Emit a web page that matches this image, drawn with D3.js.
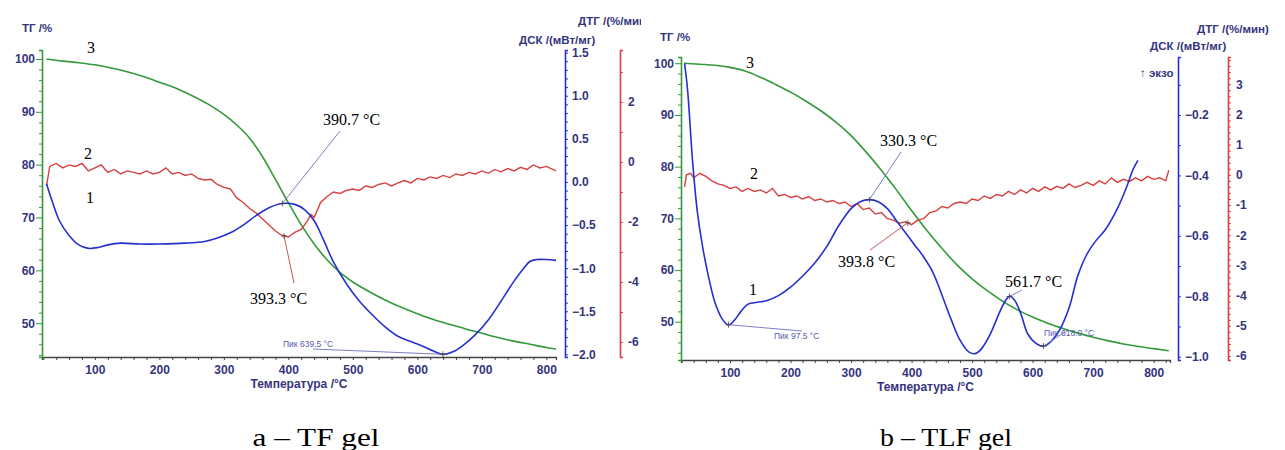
<!DOCTYPE html>
<html>
<head>
<meta charset="utf-8">
<script src="https://cdn.jsdelivr.net/npm/d3@7"></script>
<style>
  body { margin: 0; background: #fff; }
  svg { display: block; }
</style>
</head>
<body>
<div id="wrapper"></div>
<script>
// ---- data: panel a (TF gel) ----
const tgA = [[25, 100], [50, 99.6], [75, 99.3], [100, 98.9], [125, 98.3], [150, 97.6], [175, 96.7],
  [200, 95.6], [225, 94.5], [250, 93.1], [275, 91.5], [300, 89.5], [320, 87.5], [340, 85.0],
  [360, 81.5], [380, 77.2], [400, 72.8], [420, 68.6], [440, 65.0], [460, 62.0], [480, 59.6],
  [500, 57.8], [525, 56.0], [550, 54.4], [575, 53.0], [600, 51.8], [625, 50.7], [650, 49.8],
  [675, 48.9], [700, 48.1], [725, 47.3], [750, 46.6], [775, 46.0], [800, 45.4], [815, 45.1]];

const dscA = [[25, -0.02], [35, -0.25], [45, -0.45], [60, -0.62], [75, -0.73], [90, -0.77],
  [105, -0.76], [120, -0.73], [140, -0.71], [170, -0.72], [200, -0.72], [240, -0.71], [270, -0.69],
  [290, -0.65], [310, -0.59], [330, -0.5], [350, -0.39], [370, -0.3], [390, -0.25], [410, -0.26],
  [425, -0.32], [440, -0.45], [455, -0.68], [470, -0.93], [490, -1.18], [510, -1.38], [530, -1.54],
  [550, -1.68], [570, -1.79], [590, -1.85], [610, -1.91], [625, -1.96], [640, -2.0], [655, -1.97],
  [670, -1.9], [690, -1.77], [710, -1.6], [730, -1.38], [750, -1.15], [765, -1.0], [775, -0.92],
  [785, -0.9], [800, -0.9], [815, -0.91]];

const dtgA = [[25, -0.8], [30, -0.15], [40, -0.05], [50, -0.2], [60, -0.1], [70, -0.15], [80, -0.05],
  [90, -0.3], [100, -0.2], [110, -0.1], [120, -0.35], [130, -0.25], [140, -0.4], [150, -0.3],
  [160, -0.35], [170, -0.4], [180, -0.3], [190, -0.4], [200, -0.35], [210, -0.2], [220, -0.4],
  [230, -0.35], [240, -0.45], [250, -0.4], [260, -0.55], [270, -0.6], [280, -0.58], [290, -0.75],
  [300, -0.85], [310, -0.9], [320, -1.2], [330, -1.35], [340, -1.55], [350, -1.7], [360, -1.9],
  [370, -2.1], [380, -2.3], [390, -2.45], [400, -2.5], [410, -2.35], [420, -2.25], [430, -1.95],
  [435, -1.75], [440, -1.85], [450, -1.35], [460, -1.15], [470, -1.0], [480, -1.05], [490, -0.95],
  [500, -0.9], [510, -0.95], [520, -0.8], [530, -0.85], [540, -0.75], [550, -0.7], [560, -0.8],
  [570, -0.7], [580, -0.62], [590, -0.7], [600, -0.55], [610, -0.6], [620, -0.5], [630, -0.55],
  [640, -0.45], [650, -0.52], [660, -0.4], [670, -0.45], [680, -0.35], [690, -0.4], [700, -0.3],
  [710, -0.38], [720, -0.25], [730, -0.33], [740, -0.22], [750, -0.3], [760, -0.18], [770, -0.25],
  [780, -0.1], [790, -0.2], [800, -0.15], [810, -0.25], [815, -0.3]];

// ---- data: panel b (TLF gel) ----
const tgB = [[24, 100], [50, 99.8], [75, 99.6], [100, 99.2], [125, 98.5], [150, 97.3], [175, 95.9],
  [200, 94.4], [225, 92.7], [250, 90.8], [275, 88.6], [300, 86.0], [325, 82.8], [350, 79.3],
  [375, 75.5], [400, 71.5], [425, 67.7], [450, 64.2], [475, 61.0], [500, 58.3], [525, 56.0],
  [550, 54.0], [575, 52.3], [600, 50.9], [625, 49.7], [650, 48.7], [675, 47.8], [700, 47.0],
  [725, 46.3], [750, 45.7], [775, 45.2], [800, 44.8], [825, 44.4]];

const dscB = [[25, -0.03], [30, -0.12], [38, -0.35], [46, -0.52], [55, -0.64], [65, -0.74],
  [75, -0.82], [87, -0.875], [97, -0.895], [107, -0.88], [118, -0.85], [130, -0.826], [145, -0.82],
  [160, -0.815], [180, -0.798], [200, -0.77], [220, -0.733], [240, -0.69], [260, -0.635],
  [280, -0.565], [300, -0.51], [315, -0.487], [330, -0.48], [345, -0.487], [360, -0.51],
  [375, -0.55], [390, -0.59], [405, -0.63], [420, -0.67], [435, -0.72], [450, -0.795],
  [465, -0.875], [480, -0.945], [495, -0.985], [505, -0.99], [515, -0.975], [530, -0.925],
  [545, -0.855], [555, -0.815], [562, -0.8], [570, -0.812], [580, -0.855], [592, -0.925],
  [605, -0.955], [618, -0.965], [630, -0.95], [645, -0.91], [660, -0.84], [675, -0.73],
  [690, -0.66], [705, -0.615], [720, -0.58], [740, -0.51], [755, -0.44], [766, -0.38], [774, -0.35]];

const dtgB = [[25, -0.4], [28, 0.0], [35, 0.05], [40, -0.1], [50, 0.05], [60, -0.05], [70, -0.2],
  [80, -0.3], [90, -0.35], [100, -0.45], [110, -0.4], [120, -0.55], [130, -0.45], [140, -0.55],
  [150, -0.5], [160, -0.6], [170, -0.45], [180, -0.7], [190, -0.65], [200, -0.75], [210, -0.7],
  [220, -0.8], [230, -0.72], [240, -0.85], [250, -0.8], [260, -0.9], [270, -0.85], [280, -0.95],
  [290, -0.9], [300, -1.05], [310, -0.95], [320, -1.15], [330, -1.1], [340, -1.3], [350, -1.25],
  [360, -1.45], [370, -1.5], [380, -1.6], [390, -1.55], [400, -1.65], [410, -1.5], [420, -1.45],
  [430, -1.25], [440, -1.2], [450, -1.05], [460, -1.1], [470, -0.95], [480, -0.9], [490, -0.95],
  [500, -0.8], [510, -0.85], [520, -0.7], [530, -0.78], [540, -0.65], [550, -0.7], [560, -0.55],
  [570, -0.65], [580, -0.5], [590, -0.6], [600, -0.45], [610, -0.55], [620, -0.4], [630, -0.5],
  [640, -0.38], [650, -0.45], [660, -0.3], [670, -0.42], [680, -0.35], [690, -0.25], [700, -0.35],
  [710, -0.2], [720, -0.3], [730, -0.1], [740, -0.25], [750, -0.15], [760, -0.22], [770, -0.1],
  [780, -0.2], [790, -0.05], [800, -0.15], [810, -0.1], [820, -0.2], [825, 0.15]];

// tick values
const xTicks = [100, 200, 300, 400, 500, 600, 700, 800];
const tgTicks = [50, 60, 70, 80, 90, 100];
const dscTicksA = [-2.0, -1.5, -1.0, -0.5, 0.0, 0.5, 1.0, 1.5];
const dtgTicksA = [-6, -4, -2, 0, 2];
const dscTicksB = [-1.0, -0.8, -0.6, -0.4, -0.2];
const dtgTicksB = [-6, -5, -4, -3, -2, -1, 0, 1, 2, 3];

// peak annotations: [temperature, series, label]
const peaksA = [[390.7, "dsc", "390.7 °C"], [393.3, "dtg", "393.3 °C"], [639.5, "dsc", "Пик 639.5 °C"]];
const peaksB = [[330.3, "dsc", "330.3 °C"], [393.8, "dtg", "393.8 °C"], [561.7, "dsc", "561.7 °C"],
  [97.5, "dsc", "Пик 97.5 °C"], [618.0, "dsc", "Пик 618.0 °C"]];

const captions = ["a – TF gel", "b – TLF gel"];

const colors = { tg: "#33993a", dsc: "#2430d0", dtg: "#d84040", label: "#34347e" };
const sans = "'Liberation Sans', Arial, sans-serif";
const serif = "'Liberation Serif', 'Times New Roman', serif";

const svg = d3.select("#wrapper").append("svg").attr("width", 1285).attr("height", 450);
const defs = svg.append("defs");

function interp(series, t) {
  for (let i = 1; i < series.length; i++) {
    if (series[i][0] >= t) {
      const [t0, v0] = series[i - 1], [t1, v1] = series[i];
      return v0 + (v1 - v0) * (t - t0) / (t1 - t0);
    }
  }
  return series[series.length - 1][1];
}

function drawPanel(p) {
  defs.append("clipPath").attr("id", p.id + "-clip")
    .append("rect").attr("x", p.clip[0]).attr("y", 0).attr("width", p.clip[1] - p.clip[0]).attr("height", 450);
  const g = svg.append("g").attr("clip-path", `url(#${p.id}-clip)`);

  const x = d3.scaleLinear().domain(p.xDomain).range([p.left, p.right]);
  const yTg = d3.scaleLinear().domain(p.tgDomain).range([p.bottom, p.top]);
  const yDsc = d3.scaleLinear().domain(p.dscDomain).range([p.bottom, p.top]);
  const yDtg = d3.scaleLinear().domain(p.dtgDomain).range([p.bottom, p.top]);
  const scales = { tg: yTg, dsc: yDsc, dtg: yDtg };

  const styleAxis = (sel, color) => {
    sel.select(".domain").attr("stroke", color).attr("stroke-width", 1.6);
    sel.selectAll(".tick line").attr("stroke", color);
    sel.selectAll(".tick text").attr("fill", colors.label)
      .style("font-family", sans).style("font-size", "12px").style("font-weight", "bold");
  };

  // x axis
  const xMinor = d3.range(20, p.xDomain[1], 20);
  const xAxis = g.append("g").attr("transform", `translate(0,${p.bottom})`)
    .call(d3.axisBottom(x).tickValues(xMinor).tickSizeOuter(0).tickSize(3).tickPadding(5)
      .tickFormat((d) => (xTicks.includes(d) ? d : "")));
  styleAxis(xAxis, "#444");
  xAxis.select(".domain").attr("stroke-width", 1.3);
  xAxis.append("text").attr("x", (p.left + p.right) / 2).attr("y", 31)
    .attr("text-anchor", "middle").attr("fill", colors.label)
    .style("font-family", sans).style("font-size", "12px").style("font-weight", "bold")
    .text("Температура /°C");

  // TG axis (left, green)
  const tgMinor = d3.range(44, p.tgDomain[1], 2);
  const tgAxis = g.append("g").attr("transform", `translate(${p.left},0)`)
    .call(d3.axisLeft(yTg).tickValues(tgMinor).tickSizeOuter(0).tickSize(3).tickPadding(4)
      .tickFormat((d) => (tgTicks.includes(d) ? d : "")));
  styleAxis(tgAxis, colors.tg);
  tgAxis.selectAll(".tick").filter((d) => tgTicks.includes(d)).select("line").attr("x2", -6);

  // DSC axis (blue)
  const dscAxis = g.append("g").attr("transform", `translate(${p.dscX},0)`)
    .call(d3.axisRight(yDsc).tickValues(p.dscMinor).tickSizeOuter(0).tickSize(3).tickPadding(4)
      .tickFormat((d) => {
        const hit = p.dscTicks.find((v) => Math.abs(v - d) < 1e-6);
        return hit === undefined ? "" : d3.format(".1f")(hit);
      }));
  styleAxis(dscAxis, colors.dsc);

  // DTG axis (red)
  const dtgAxis = g.append("g").attr("transform", `translate(${p.dtgX},0)`)
    .call(d3.axisRight(yDtg).tickValues(p.dtgMinor).tickSizeOuter(0).tickSize(3).tickPadding(5)
      .tickFormat((d) => {
        const hit = p.dtgTicks.find((v) => Math.abs(v - d) < 1e-6);
        return hit === undefined ? "" : hit;
      }));
  styleAxis(dtgAxis, colors.dtg);

  // axis titles
  const title = (tx, ty, txt) => g.append("text").attr("x", tx).attr("y", ty)
    .attr("fill", colors.label).style("font-family", sans).style("font-size", "11.5px")
    .style("font-weight", "bold").text(txt);
  title(p.titles.tg[0], p.titles.tg[1], "ТГ /%");
  title(p.titles.dsc[0], p.titles.dsc[1], "ДСК /(мВт/мг)");
  title(p.titles.dtg[0], p.titles.dtg[1], p.dtgTitle);
  if (p.exo) title(p.exo[0], p.exo[1], "↑ экзо");

  // curves
  const line = (ys, curve) => d3.line().x((d) => x(d[0])).y((d) => ys(d[1])).curve(curve);
  g.append("path").attr("d", line(yTg, d3.curveMonotoneX)(p.tg))
    .attr("fill", "none").attr("stroke", colors.tg).attr("stroke-width", 1.6);
  g.append("path").attr("d", line(yDtg, d3.curveLinear)(p.dtg))
    .attr("fill", "none").attr("stroke", colors.dtg).attr("stroke-width", 1.4);
  g.append("path").attr("d", line(yDsc, d3.curveCatmullRom)(p.dsc))
    .attr("fill", "none").attr("stroke", colors.dsc).attr("stroke-width", 1.6);

  // curve numbers
  p.numbers.forEach(([n, nx, ny]) => g.append("text").attr("x", nx).attr("y", ny)
    .style("font-family", serif).style("font-size", "16px").text(n));

  // peak labels with leader lines
  p.peaks.forEach(([t, key, label], i) => {
    const series = key === "dsc" ? p.dsc : p.dtg;
    const px = x(t), py = scales[key](interp(series, t));
    const [lx, ly, ex, ey] = p.peakPos[i];
    const small = label.startsWith("Пик");
    g.append("line").attr("x1", px).attr("y1", py).attr("x2", ex).attr("y2", ey)
      .attr("stroke", key === "dsc" ? "#7d80c8" : "#c85a5a").attr("stroke-width", 1);
    g.append("path").attr("d", `M${px - 3},${py}H${px + 3}M${px},${py - 3}V${py + 3}`)
      .attr("stroke", "#444").attr("stroke-width", 0.8);
    g.append("text").attr("x", lx).attr("y", ly)
      .attr("fill", small ? "#5a5ab0" : "#000")
      .style("font-family", small ? sans : serif)
      .style("font-size", small ? "8.5px" : "16px").text(label);
  });

  // caption
  svg.append("text").attr("x", p.caption[0]).attr("y", p.caption[1]).attr("text-anchor", "middle")
    .attr("textLength", p.caption[2]).attr("lengthAdjust", "spacingAndGlyphs")
    .style("font-family", serif).style("font-size", "25px").text(p.captionText);
}

drawPanel({
  id: "a", clip: [0, 641],
  left: 42, right: 556, top: 50, bottom: 357,
  xDomain: [18, 815], tgDomain: [43.6, 101.7], dscDomain: [-2.03, 1.53], dtgDomain: [-6.5, 3.73],
  dscX: 565, dtgX: 620,
  dscTicks: dscTicksA, dscMinor: d3.range(-20, 16).map((d) => d / 10),
  dtgTicks: dtgTicksA, dtgMinor: d3.range(-6, 4),
  titles: { tg: [22, 32], dsc: [519, 44], dtg: [578, 25] }, dtgTitle: "ДТГ /(%/мин",
  tg: tgA, dsc: dscA, dtg: dtgA,
  numbers: [["3", 87, 53], ["2", 84, 159], ["1", 86, 203]],
  peaks: peaksA,
  peakPos: [[323, 125, 340, 131], [250, 304, 294, 283], [283, 347, 313, 349]],
  caption: [316, 446, 127], captionText: captions[0],
});

drawPanel({
  id: "b", clip: [641, 1285],
  left: 681, right: 1170, top: 57, bottom: 360,
  xDomain: [19, 827], tgDomain: [42.6, 101.2], dscDomain: [-1.011, -0.008], dtgDomain: [-6.13, 3.9],
  dscX: 1178, dtgX: 1228,
  dscTicks: dscTicksB, dscMinor: d3.range(-10, 0).map((d) => d / 10),
  dtgTicks: dtgTicksB, dtgMinor: d3.range(-30, 20).map((d) => d / 5),
  titles: { tg: [660, 41], dsc: [1150, 50], dtg: [1197, 33] }, dtgTitle: "ДТГ /(%/мин)",
  exo: [1140, 77],
  tg: tgB, dsc: dscB, dtg: dtgB,
  numbers: [["3", 746, 68], ["2", 750, 179], ["1", 749, 295]],
  peaks: peaksB,
  peakPos: [[880, 146, 901, 152], [838, 267, 870, 250], [1005, 287, 1022, 290],
    [774, 339, 802, 331], [1044, 336, 1068, 330]],
  caption: [946, 446, 132], captionText: captions[1],
});
</script>
</body>
</html>
